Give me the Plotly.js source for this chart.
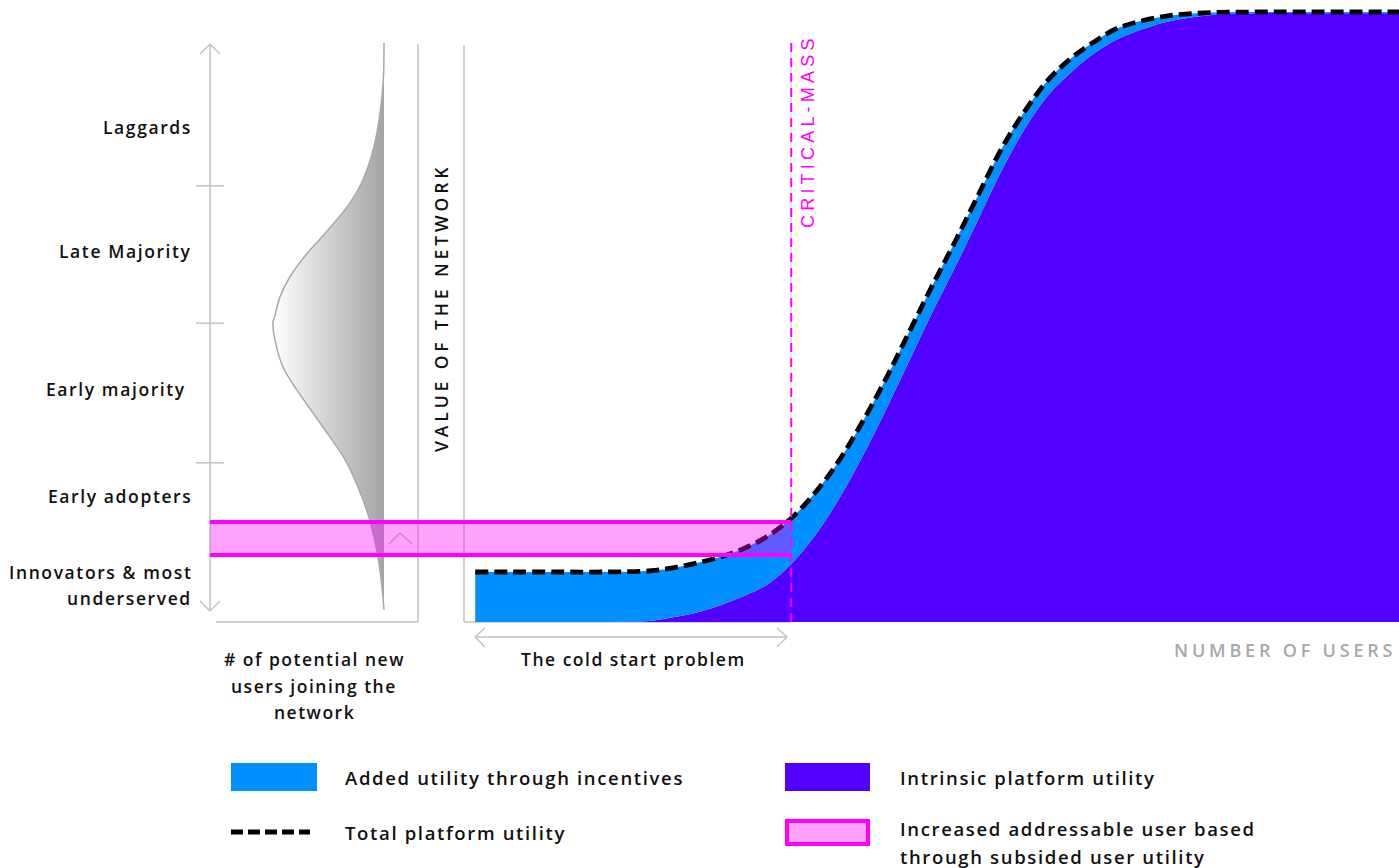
<!DOCTYPE html>
<html>
<head>
<meta charset="utf-8">
<script src="https://cdn.plot.ly/plotly-3.0.1.min.js"></script>
<style>
  html, body { margin: 0; padding: 0; background: #ffffff; }
  #chart { width: 1399px; height: 868px; }
</style>
</head>
<body>
<div id="chart"></div>
<script>
// ---------------- DATA ----------------
// Number of users (0..100) on the horizontal axis of the main chart
const users = [1.2, 5, 10, 15, 20, 22.5, 25, 27.5, 30, 32.5, 35, 37.5, 40, 42.5, 45, 47.5, 50, 52.5, 55, 57.5, 60, 62.5, 65, 67.5, 70, 75, 80, 85, 90, 100];
// Total platform utility (value of the network, 0..100)
const totalUtility = [8.2, 8.2, 8.2, 8.2, 8.4, 8.9, 9.7, 10.7, 12.1, 14.1, 17.0, 21.1, 26.2, 32.5, 39.5, 47.2, 54.9, 62.3, 70.0, 77.6, 83.8, 88.9, 92.5, 95.2, 97.4, 99.3, 99.9, 100, 100, 100];
// Intrinsic platform utility
const intrinsicUtility = [0, 0, 0, 0, 0.2, 0.8, 1.6, 2.8, 4.3, 6.2, 9.5, 14.1, 19.9, 26.8, 34.4, 42.4, 50.5, 58.1, 66.0, 74.0, 80.9, 86.4, 90.2, 93.3, 95.6, 98.3, 99.5, 99.8, 99.8, 99.8];

// Critical mass position (number of users)
const criticalMass = [35];
// Increased addressable user band (value range)
const addressableBand = [11.0, 16.4];

// Adoption distribution (left panel): level on the value scale and relative # of new users
const adoptionLevel = [94.9, 88.9, 83.4, 77.9, 72.5, 68.7, 65.4, 62.6, 59.8, 56.6, 53.3, 50.0, 49.2, 46.2, 41.8, 38.0, 34.3, 30.3, 26.6, 22.1, 17.9, 13.9, 10.2, 5.7, 2.0];
const newUsers = [0, 0.006, 0.036, 0.090, 0.189, 0.306, 0.450, 0.586, 0.721, 0.847, 0.937, 0.986, 1.0, 0.982, 0.910, 0.784, 0.640, 0.486, 0.351, 0.234, 0.149, 0.090, 0.050, 0.018, 0];

// Adopter segments
const segmentLabels = ['Laggards', 'Late Majority', 'Early majority ', 'Early adopters', 'Innovators & most', 'underserved'];
const segmentLabelLevel = [81.1, 60.8, 38.2, 20.7, 8.2, 3.9];
const segmentBoundaries = [71.5, 49.0, 26.1];

const legendLabels = ['Added utility through incentives', 'Intrinsic platform utility', 'Total platform utility', 'Increased addressable user based', 'through subsided user utility'];

// ---------------- LAYOUT HELPERS ----------------
const W = 1399, H = 868;
const X = px => px / W;
const Y = py => 1 - py / H;
const FONT = 'Open Sans';
const BLUE = '#0090ff', PURPLE = '#5200ff', MAGENTA = '#ff00ff', GRAY = '#c2c2c2';

function ls(text, px) { return '<span style="letter-spacing:' + px + 'px">' + text + '</span>'; }
function line(x0, y0, x1, y1, color, width, dash) {
  return {type: 'line', xref: 'paper', yref: 'paper', x0: X(x0), y0: Y(y0), x1: X(x1), y1: Y(y1),
          line: {color: color, width: width, dash: dash || 'solid'}, layer: 'below'};
}
function rect(x0, y0, x1, y1, fill, lcolor, lwidth) {
  return {type: 'rect', xref: 'paper', yref: 'paper', x0: X(x0), y0: Y(y0), x1: X(x1), y1: Y(y1),
          fillcolor: fill, line: {color: lcolor || fill, width: lwidth || 0}, layer: 'above'};
}
function txt(text, x, y, xanchor, size, color, extra, weight, family) {
  return Object.assign({text: text, xref: 'paper', yref: 'paper', x: X(x), y: Y(y), xanchor: xanchor, yanchor: 'middle',
          showarrow: false, font: {family: family || FONT, size: size, color: color || '#111111', weight: weight || 600}}, extra || {});
}

// ---------------- TRACES ----------------
const traces = [
  { // adoption distribution (bell)
    x: newUsers, y: adoptionLevel, xaxis: 'x2', yaxis: 'y', type: 'scatter', mode: 'lines',
    line: {color: '#a8a8a8', width: 1.5, shape: 'spline', smoothing: 1.0},
    fill: 'tozerox',
    fillgradient: {type: 'horizontal', start: 1, stop: 0, colorscale: [[0, '#ffffff'], [1, '#a4a4a6']]},
    hoverinfo: 'skip', showlegend: false
  },
  { // intrinsic utility
    x: users, y: intrinsicUtility, type: 'scatter', mode: 'lines',
    line: {color: PURPLE, width: 0, shape: 'spline', smoothing: 1.0},
    fill: 'tozeroy', fillcolor: PURPLE, hoverinfo: 'skip', showlegend: false
  },
  { // total utility (incentives fill between)
    x: users, y: totalUtility, type: 'scatter', mode: 'lines',
    line: {color: '#000000', width: 4.8, dash: '13px,6px', shape: 'spline', smoothing: 1.0},
    fill: 'tonexty', fillcolor: BLUE, hoverinfo: 'skip', showlegend: false
  },
  { // critical mass line
    x: [criticalMass[0], criticalMass[0]], y: [0, 95.9], type: 'scatter', mode: 'lines',
    line: {color: MAGENTA, width: 2, dash: '9px,6px'}, hoverinfo: 'skip', showlegend: false
  }
];

// ---------------- SHAPES ----------------
const shapes = [
  // adopter axis with arrows
  line(210, 45, 210, 610, GRAY, 1.5),
  line(200, 54, 210, 44, GRAY, 1.5), line(210, 44, 220, 54, GRAY, 1.5),
  line(200, 601, 210, 611, GRAY, 1.5), line(210, 611, 220, 601, GRAY, 1.5),
  // left panel frame
  line(418, 44, 418, 622, GRAY, 1.5),
  line(216, 622, 418, 622, GRAY, 1.5),
  // small chevron
  line(389, 544, 400, 533, GRAY, 1.5), line(400, 533, 412, 544, GRAY, 1.5),
  // main axis
  line(464, 45, 464, 622, GRAY, 1.5),
  line(464, 622, 792, 622, GRAY, 1.5),
  // cold start arrow
  line(475, 637, 787, 637, GRAY, 1.5),
  line(485, 628, 475, 637, GRAY, 1.5), line(475, 637, 485, 647, GRAY, 1.5),
  line(777, 628, 787, 637, GRAY, 1.5), line(787, 637, 777, 647, GRAY, 1.5),
  // legend swatches
  rect(231, 763, 317, 791, BLUE),
  rect(785, 763, 870, 791, PURPLE),
  line(231, 832, 310, 832, '#000000', 5, '12px,5px'),
  rect(787, 821, 868, 844, '#ffa3ff', MAGENTA, 4)
];
segmentBoundaries.forEach(v => {
  shapes.push({type: 'line', xref: 'paper', yref: 'y', x0: X(196), x1: X(224), y0: v, y1: v,
               line: {color: GRAY, width: 1.5}, layer: 'below'});
});
// addressable band (data-driven, on top)
const bandLeft = -27.17; // position of the adopter axis on the users scale
shapes.push({type: 'rect', xref: 'x', yref: 'y', x0: bandLeft, x1: criticalMass[0], y0: addressableBand[0], y1: addressableBand[1],
             fillcolor: 'rgba(255,0,255,0.36)', line: {width: 0}, layer: 'above'});
addressableBand.forEach(v => {
  shapes.push({type: 'line', xref: 'x', yref: 'y', x0: bandLeft, x1: criticalMass[0], y0: v, y1: v,
               line: {color: MAGENTA, width: 4}, layer: 'above'});
});

// ---------------- ANNOTATIONS ----------------
const annotations = [];
segmentLabels.forEach((t, i) => {
  annotations.push({text: ls(t.replace('&', '&amp;'), 1.6), xref: 'paper', yref: 'y', x: X(194), y: segmentLabelLevel[i],
                    xanchor: 'right', yanchor: 'middle', showarrow: false,
                    font: {family: FONT, size: 17.5, color: '#111111', weight: 600}});
});
annotations.push(
  txt(ls('VALUE OF THE NETWORK', 3.9), 441, 308, 'center', 17.5, '#111111', {textangle: -90}, 600),
  txt(ls('CRITICAL-MASS', 4.2), 808, 131, 'center', 18, MAGENTA, {textangle: -90}, 400, 'Liberation Sans'),
  txt(ls('# of potential new', 1.5), 314, 659, 'center', 17.5),
  txt(ls('users joining the', 1.5), 314, 686, 'center', 17.5),
  txt(ls('network', 1.5), 314, 712, 'center', 17.5),
  txt(ls('The cold start problem', 1.5), 633, 659, 'center', 17.5),
  txt(ls('NUMBER OF USERS', 3.8), 1398, 650, 'right', 18, '#a8a8a8', null, 600),
  txt(ls(legendLabels[0], 1.65), 343, 777, 'left', 18.5),
  txt(ls(legendLabels[1], 1.65), 898, 777, 'left', 18.5),
  txt(ls(legendLabels[2], 1.65), 343, 832, 'left', 18.5),
  txt(ls(legendLabels[3], 1.65), 898, 828, 'left', 18.5),
  txt(ls(legendLabels[4], 1.65), 898, 856, 'left', 18.5)
);

const layout = {
  width: W, height: H,
  margin: {l: 0, r: 0, t: 0, b: 0, pad: 0},
  paper_bgcolor: '#ffffff', plot_bgcolor: 'rgba(0,0,0,0)',
  showlegend: false,
  xaxis: {range: [-49.626, 100], visible: false, fixedrange: true},
  xaxis2: {range: [3.4595, -9.1441], overlaying: 'x', anchor: 'y', visible: false, fixedrange: true},
  yaxis: {range: [-40.328, 101.967], visible: false, fixedrange: true},
  shapes: shapes,
  annotations: annotations,
  font: {family: FONT}
};

Plotly.newPlot('chart', traces, layout, {staticPlot: true, displayModeBar: false});
</script>
</body>
</html>
